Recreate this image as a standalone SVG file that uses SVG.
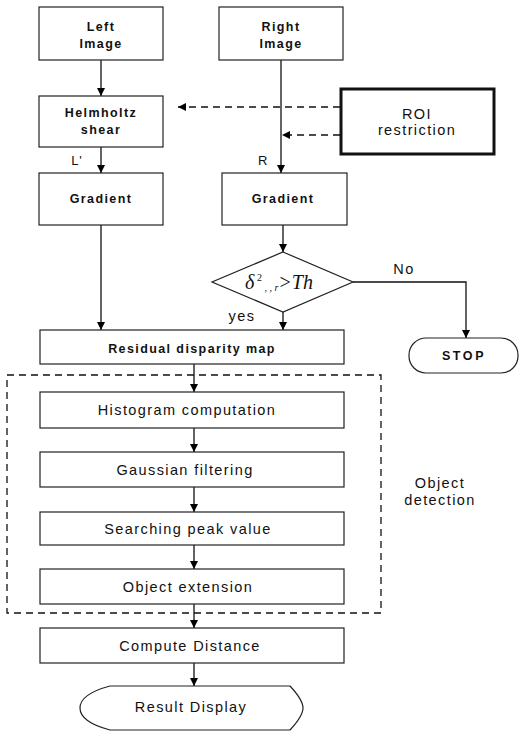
<svg xmlns="http://www.w3.org/2000/svg" width="519" height="731" viewBox="0 0 519 731">
<defs>
<marker id="ah" viewBox="0 0 10 10" refX="10" refY="5" markerWidth="8" markerHeight="8" markerUnits="userSpaceOnUse" orient="auto"><path d="M0,0 L10,5 L0,10 z" fill="#000"/></marker>
</defs>
<style>
.box{fill:#fff;stroke:#222;stroke-width:1.2}
.t{font-family:"Liberation Sans",Arial,sans-serif;font-size:13px;fill:#111;text-anchor:middle;letter-spacing:0.8px}
.b{font-weight:bold;font-size:12.5px;letter-spacing:1.4px}
.n{font-size:14.5px;letter-spacing:1.4px}
.c{stroke:#111;stroke-width:1.3;fill:none}
.d{stroke-dasharray:7,5}
</style>
<rect width="519" height="731" fill="#fff"/>
<g id="connectors">
<line class="c" x1="101" y1="60" x2="101" y2="96" marker-end="url(#ah)"/>
<line class="c d" x1="340" y1="107" x2="178" y2="107" marker-end="url(#ah)"/>
<line class="c d" x1="340" y1="135" x2="282" y2="135" marker-end="url(#ah)"/>
<line class="c" x1="281" y1="60" x2="281" y2="173" marker-end="url(#ah)"/>
<line class="c" x1="101" y1="147" x2="101" y2="173" marker-end="url(#ah)"/>
<line class="c" x1="101" y1="225" x2="101" y2="330" marker-end="url(#ah)"/>
<line class="c" x1="283" y1="225" x2="283" y2="252" marker-end="url(#ah)"/>
<line class="c" x1="283" y1="312" x2="283" y2="330" marker-end="url(#ah)"/>
<polyline class="c" points="353,282 466,282 466,338" marker-end="url(#ah)"/>
<line class="c" x1="194" y1="364" x2="194" y2="392" marker-end="url(#ah)"/>
<line class="c" x1="194" y1="428" x2="194" y2="452" marker-end="url(#ah)"/>
<line class="c" x1="194" y1="487" x2="194" y2="512" marker-end="url(#ah)"/>
<line class="c" x1="194" y1="545" x2="194" y2="569" marker-end="url(#ah)"/>
<line class="c" x1="194" y1="604" x2="194" y2="628" marker-end="url(#ah)"/>
<line class="c" x1="194" y1="663" x2="194" y2="686" marker-end="url(#ah)"/>
<text class="t" x="77" y="165" style="font-size:13px">L'</text>
<text class="t" x="263" y="165" style="font-size:13px">R</text>
<text class="t n" x="404" y="274">No</text>
<text class="t n" x="242" y="321">yes</text>
</g>
<g id="objectDetection">
<rect x="7" y="375" width="374" height="238" fill="none" stroke="#111" stroke-width="1.3" stroke-dasharray="7,5"/>
<text class="t n" x="440" y="488">Object</text>
<text class="t n" x="440" y="505">detection</text>
</g>
<g id="leftImage"><rect class="box" x="39" y="7" width="124" height="53"/><text class="t b" x="101" y="31">Left</text><text class="t b" x="101" y="48">Image</text></g>
<g id="rightImage"><rect class="box" x="219" y="7" width="124" height="53"/><text class="t b" x="281" y="31">Right</text><text class="t b" x="281" y="48">Image</text></g>
<g id="helmholtz"><rect class="box" x="39" y="96" width="124" height="51"/><text class="t b" x="101" y="117">Helmholtz</text><text class="t b" x="101" y="134">shear</text></g>
<g id="roi"><rect x="341" y="89" width="153" height="65" fill="#fff" stroke="#111" stroke-width="3"/><text class="t n" x="417" y="119">ROI</text><text class="t n" x="417" y="135">restriction</text></g>
<g id="gradientL"><rect class="box" x="39" y="173" width="124" height="52"/><text class="t b" x="101" y="203">Gradient</text></g>
<g id="gradientR"><rect class="box" x="222" y="173" width="125" height="52"/><text class="t b" x="283" y="203">Gradient</text></g>
<g id="decision"><polygon class="box" points="283,252 353,282 283,312 212,282"/><text x="279" y="289" font-family="Liberation Serif,'Times New Roman',serif" font-style="italic" font-size="20" fill="#111" text-anchor="middle">δ<tspan font-size="10" dy="-8" font-style="normal"> 2</tspan><tspan font-size="10" dy="10"> , , r</tspan><tspan dy="-2">&gt;Th</tspan></text></g>
<g id="stop"><rect class="box" x="409" y="338" width="109" height="35" rx="17" ry="17"/><text class="t b" x="464" y="360" style="font-size:12.5px;letter-spacing:2.6px">STOP</text></g>
<g id="residual"><rect class="box" x="40" y="330" width="304" height="34"/><text class="t b" x="192" y="353">Residual disparity map</text></g>
<g id="histogram"><rect class="box" x="40" y="392" width="304" height="36"/><text class="t n" x="187" y="415">Histogram computation</text></g>
<g id="gaussian"><rect class="box" x="40" y="452" width="304" height="35"/><text class="t n" x="185" y="475">Gaussian filtering</text></g>
<g id="searching"><rect class="box" x="40" y="512" width="304" height="33"/><text class="t n" x="188" y="534">Searching peak value</text></g>
<g id="extension"><rect class="box" x="40" y="569" width="304" height="35"/><text class="t n" x="188" y="592">Object extension</text></g>
<g id="distance"><rect class="box" x="40" y="628" width="304" height="35"/><text class="t n" x="190" y="651">Compute Distance</text></g>
<g id="result"><path class="box" d="M110,686 L290,686 Q303,700 303,708 Q303,716 290,730 L110,730 Q80,722 80,708 Q80,694 110,686 Z"/><text class="t n" x="191" y="712">Result Display</text></g>
</svg>
